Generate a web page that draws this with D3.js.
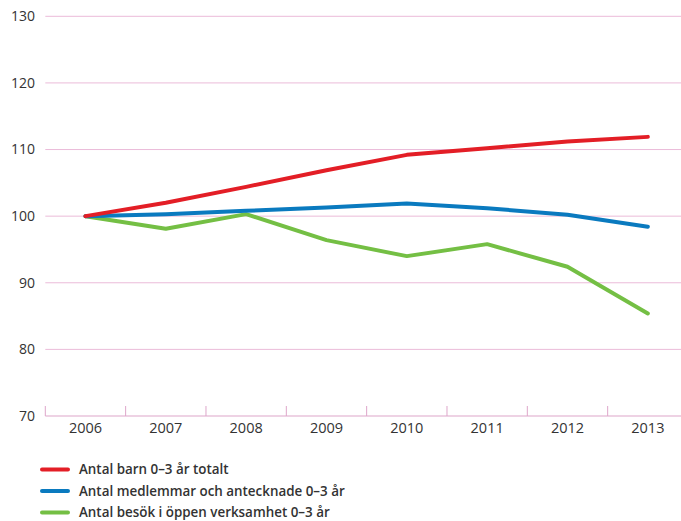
<!DOCTYPE html>
<html><head><meta charset="utf-8">
<script src="https://cdn.jsdelivr.net/npm/d3@7"></script>
<style>body{margin:0;background:#fff}svg{display:block}</style>
</head><body><svg id="c" width="681" height="521"></svg>
<script>
const years = ["2006","2007","2008","2009","2010","2011","2012","2013"];
const yTicks = [70,80,90,100,110,120,130];
const seriesNames = ["Antal barn 0–3 år totalt","Antal medlemmar och antecknade 0–3 år","Antal besök i öppen verksamhet 0–3 år"];
const seriesColors = ["#e31e26","#0a7abf","#74bf44"];
const barnTotalt = [100,102.0,104.4,106.9,109.2,110.2,111.2,111.9];
const medlemmar = [100,100.3,100.8,101.3,101.9,101.2,100.2,98.4];
const besok = [100,98.1,100.3,96.4,94.0,95.8,92.4,85.4];
const allSeries = [barnTotalt, medlemmar, besok];

const svg = d3.select("#c");
const x = d3.scaleBand().domain(years).range([45.3, 688]);
const y = d3.scaleLinear().domain([70,130]).range([416, 16.3]);
const font = "'Open Sans', sans-serif";

// gridlines
svg.append("g").selectAll("line").data(yTicks.filter(t=>t>70)).join("line")
  .attr("x1",45.3).attr("x2",681).attr("y1",d=>y(d)).attr("y2",d=>y(d))
  .attr("stroke","#ebbbd9").attr("stroke-width",1);

// y labels
svg.append("g").selectAll("text").data(yTicks).join("text")
  .attr("x",35).attr("y",d=>y(d)).attr("dy","0.35em").attr("text-anchor","end")
  .attr("font-family",font).attr("font-size",14).attr("fill","#333")
  .text(d=>d);

// x axis
const xa = svg.append("g").attr("transform","translate(0,416)")
  .call(d3.axisBottom(x).tickSize(0).tickPadding(8));
xa.select(".domain").remove();
xa.selectAll("text").attr("font-family",font).attr("font-size",14.5).attr("fill","#333").attr("dy","0.78em").attr("y",6);
svg.append("line").attr("x1",45.3).attr("x2",681).attr("y1",416).attr("y2",416)
  .attr("stroke","#dea6ca").attr("stroke-width",1.2);
const bounds = years.map(d=>x(d));
svg.append("g").selectAll("line").data(bounds).join("line")
  .attr("x1",d=>d).attr("x2",d=>d).attr("y1",406).attr("y2",416)
  .attr("stroke","#dea6ca").attr("stroke-width",1);

// lines
const line = d3.line().x((d,i)=>x(years[i])+x.bandwidth()/2).y(d=>y(d));
[2,1,0].forEach(i=>{
  svg.append("path").datum(allSeries[i]).attr("d",line)
    .attr("fill","none").attr("stroke",seriesColors[i]).attr("stroke-width",4)
    .attr("stroke-linecap","round").attr("stroke-linejoin","round");
});

// legend
const lg = svg.append("g").selectAll("g").data(seriesNames).join("g")
  .attr("transform",(d,i)=>`translate(0,${469.5+i*21.5})`);
lg.append("line").attr("x1",42).attr("x2",68).attr("y1",0).attr("y2",0)
  .attr("stroke",(d,i)=>seriesColors[i]).attr("stroke-width",4).attr("stroke-linecap","round");
lg.append("text").attr("x",79).attr("y",0).attr("dy","0.35em")
  .attr("font-family",font).attr("font-size",13.4).attr("font-weight",600).attr("fill","#333")
  .text(d=>d);
</script></body></html>
